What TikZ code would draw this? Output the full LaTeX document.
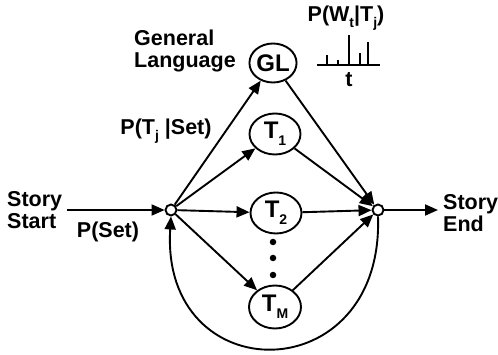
\documentclass[tikz,border=0pt]{standalone}
\usepackage{fontspec}
\setmainfont{Liberation Sans}
\usetikzlibrary{arrows.meta,shapes.geometric}
\newcommand{\sbs}[1]{\raisebox{-0.3em}{\fontsize{14}{14}\selectfont #1}}
\begin{document}
\begin{tikzpicture}[x=1pt,y=-1pt,
  every node/.style={font=\fontsize{21.5}{22.5}\selectfont\bfseries, inner sep=0pt},
  state/.style={draw, ellipse, line width=1.9pt, minimum width=51pt, minimum height=41pt, font=\fontsize{24}{24}\selectfont\bfseries},
  junction/.style={draw, circle, line width=1.9pt, minimum size=11pt, fill=white},
  arr/.style={line width=1.9pt, -{Triangle[length=13pt,width=11pt]}},
  dotm/.style={circle, fill=black, minimum size=6.5pt}]
\useasboundingbox (0,0) rectangle (498,355);

\node[state, minimum width=43pt, minimum height=39pt] (gl) at (273,63) {GL};
\node[state] (t1) at (275,134) {T\sbs{1}};
\node[state] (t2) at (276,213) {T\sbs{2}};
\node[state, minimum width=52pt, minimum height=43pt] (tm) at (275,307) {T\sbs{M}};
\node[dotm] (d1) at (273,242) {};
\node[dotm] (d2) at (273,258) {};
\node[dotm] (d3) at (273,275) {};

\node[junction] (s) at (171,210) {};
\node[junction] (e) at (378,210) {};

\node[anchor=west, align=left] (start) at (7,210) {Story\\Start};
\node[anchor=west, align=left] (end) at (443,213) {Story\\End};
\node[anchor=west, align=left] (gllab) at (134,51) {General\\Language};
\node (pt) at (166,131) {P(T\sbs{j} |Set)};
\node (pset) at (108,232) {P(Set)};
\node (pw) at (346,18) {P(W\sbs{t}|T\sbs{j})};

\coordinate (startpt) at (67,210);
\coordinate (endpt) at (438,210);
\draw[arr] (startpt) -- (s);
\draw[arr] (e) -- (endpt);

\draw[arr] (s) -- (gl);
\draw[arr] (s) -- (t1);
\draw[arr] (s) -- (t2);
\draw[arr] (s) -- (tm);
\draw[arr] (gl) -- (e);
\draw[arr] (t1) -- (e);
\draw[arr] (t2) -- (e);
\draw[arr] (tm) -- (e);
\draw[arr] (e.south) .. controls (384,392) and (160,392) .. (s.south);

% histogram
\coordinate (h0) at (317,65);
\coordinate (h1) at (380,65);
\draw[line width=2pt] (h0) -- (h1);
\draw[line width=1.6pt] (327,65) -- (327,55);
\draw[line width=1.6pt] (338,65) -- (338,60);
\draw[line width=1.6pt] (349,65) -- (349,35);
\draw[line width=1.6pt] (360,65) -- (360,53);
\draw[line width=1.6pt] (368,65) -- (368,42);
\node (tlab) at (349,80) {t};
\end{tikzpicture}
\end{document}
